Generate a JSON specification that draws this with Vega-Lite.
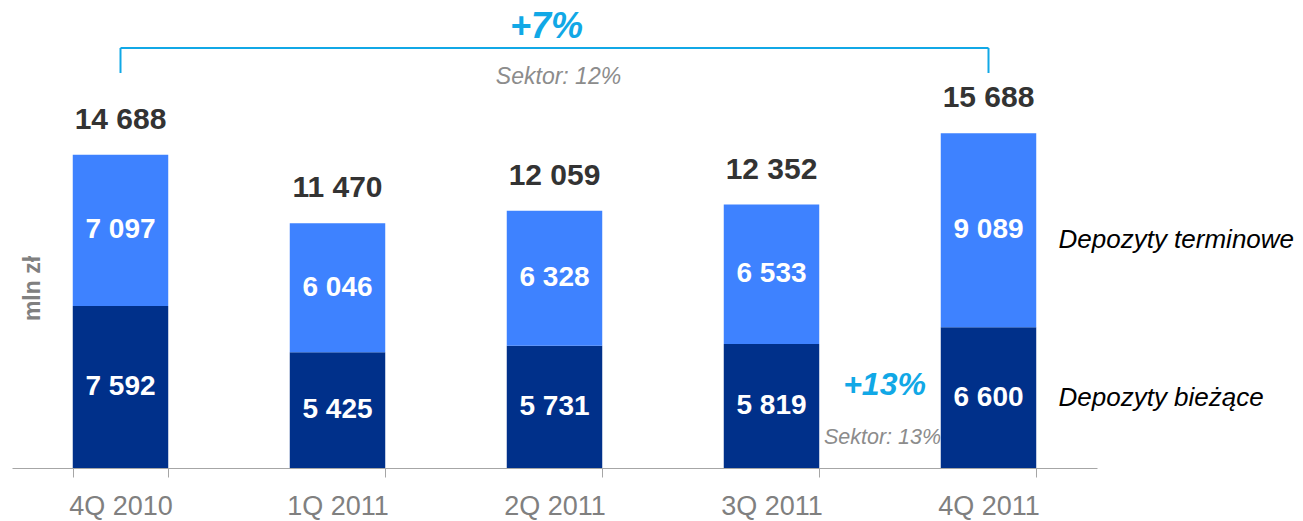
{
  "$schema": "https://vega.github.io/schema/vega-lite/v6.json",
  "width": 1085,
  "height": 468,
  "autosize": {"type": "none"},
  "padding": {"left": 12, "top": 0, "right": 206, "bottom": 53},
  "background": "white",
  "config": {"view": {"stroke": null}, "font": "Liberation Sans", "text": {"font": "Liberation Sans"}},
  "datasets": {
    "seg": [
      {"q": "4Q 2010", "typ": "Depozyty bieżące", "o": 1, "v": 7592, "lbl": "7 592"},
      {"q": "4Q 2010", "typ": "Depozyty terminowe", "o": 2, "v": 7097, "lbl": "7 097"},
      {"q": "1Q 2011", "typ": "Depozyty bieżące", "o": 1, "v": 5425, "lbl": "5 425"},
      {"q": "1Q 2011", "typ": "Depozyty terminowe", "o": 2, "v": 6046, "lbl": "6 046"},
      {"q": "2Q 2011", "typ": "Depozyty bieżące", "o": 1, "v": 5731, "lbl": "5 731"},
      {"q": "2Q 2011", "typ": "Depozyty terminowe", "o": 2, "v": 6328, "lbl": "6 328"},
      {"q": "3Q 2011", "typ": "Depozyty bieżące", "o": 1, "v": 5819, "lbl": "5 819"},
      {"q": "3Q 2011", "typ": "Depozyty terminowe", "o": 2, "v": 6533, "lbl": "6 533"},
      {"q": "4Q 2011", "typ": "Depozyty bieżące", "o": 1, "v": 6600, "lbl": "6 600"},
      {"q": "4Q 2011", "typ": "Depozyty terminowe", "o": 2, "v": 9089, "lbl": "9 089"}
    ],
    "tot": [
      {"q": "4Q 2010", "t": 14688, "lbl": "14 688"},
      {"q": "1Q 2011", "t": 11470, "lbl": "11 470"},
      {"q": "2Q 2011", "t": 12059, "lbl": "12 059"},
      {"q": "3Q 2011", "t": 12352, "lbl": "12 352"},
      {"q": "4Q 2011", "t": 15688, "lbl": "15 688"}
    ]
  },
  "encoding": {
    "x": {
      "field": "q", "type": "nominal", "sort": null,
      "scale": {"domain": ["4Q 2010", "1Q 2011", "2Q 2011", "3Q 2011", "4Q 2011"], "paddingInner": 0.56, "paddingOuter": 0.28},
      "axis": {
        "title": null, "labelAngle": 0, "labelFontSize": 27, "labelColor": "#808080",
        "labelPadding": 16, "domainColor": "#A6A6A6", "tickColor": "#A6A6A6",
        "tickBand": "extent", "tickSize": 9, "labelFont": "Liberation Sans"
      }
    }
  },
  "layer": [
    {
      "data": {"name": "seg"},
      "mark": {"type": "bar"},
      "encoding": {
        "y": {"field": "v", "type": "quantitative", "stack": "zero",
              "scale": {"domain": [0, 21940], "nice": false},
              "axis": {"domain": false, "ticks": false, "labels": false, "grid": false,
                       "title": "mln zł", "titleX": 20, "titleY": 288, "titleBaseline": "middle",
                       "titleFontSize": 23, "titleColor": "#808080", "titleFontWeight": "bold", "titleFont": "Liberation Sans"}},
        "order": {"field": "o", "type": "quantitative"},
        "color": {"field": "typ", "type": "nominal", "legend": null,
                  "scale": {"domain": ["Depozyty bieżące", "Depozyty terminowe"], "range": ["#00308A", "#3E82FF"]}}
      }
    },
    {
      "data": {"name": "seg"},
      "mark": {"type": "text", "color": "white", "fontSize": 28, "fontWeight": "bold", "baseline": "middle"},
      "encoding": {
        "y": {"field": "v", "type": "quantitative", "stack": "zero", "bandPosition": 0.5},
        "order": {"field": "o", "type": "quantitative"},
        "text": {"field": "lbl"}
      }
    },
    {
      "data": {"name": "tot"},
      "mark": {"type": "text", "color": "#333333", "fontSize": 30, "fontWeight": "bold", "baseline": "middle", "dy": -35},
      "encoding": {
        "y": {"field": "t", "type": "quantitative"},
        "text": {"field": "lbl"}
      }
    },
    {
      "data": {"values": [{"a": "4Q 2010", "b": "4Q 2011", "y": 19690}]},
      "mark": {"type": "rule", "color": "#11A8E6", "strokeWidth": 2},
      "encoding": {
        "x": {"field": "a", "type": "nominal"},
        "x2": {"field": "b"},
        "y": {"field": "y", "type": "quantitative"}
      }
    },
    {
      "data": {"values": [{"a": "4Q 2010", "y": 19690, "y2": 18519}, {"a": "4Q 2011", "y": 19690, "y2": 18519}]},
      "mark": {"type": "rule", "color": "#11A8E6", "strokeWidth": 2},
      "encoding": {
        "x": {"field": "a", "type": "nominal"},
        "y": {"field": "y", "type": "quantitative"},
        "y2": {"field": "y2"}
      }
    },
    {
      "data": {"values": [{"a": "2Q 2011", "y": 20675, "lbl": "+7%"}]},
      "mark": {"type": "text", "color": "#11A8E6", "fontSize": 36, "fontWeight": "bold", "fontStyle": "italic", "baseline": "middle", "dx": -8},
      "encoding": {
        "x": {"field": "a", "type": "nominal"},
        "y": {"field": "y", "type": "quantitative"},
        "text": {"field": "lbl"}
      }
    },
    {
      "data": {"values": [{"a": "2Q 2011", "y": 18331, "lbl": "Sektor: 12%"}]},
      "mark": {"type": "text", "color": "#8C8C8C", "fontSize": 23, "fontStyle": "italic", "baseline": "middle", "dx": 4},
      "encoding": {
        "x": {"field": "a", "type": "nominal"},
        "y": {"field": "y", "type": "quantitative"},
        "text": {"field": "lbl"}
      }
    },
    {
      "data": {"values": [{"a": "4Q 2011", "y": 3891, "lbl": "+13%"}]},
      "mark": {"type": "text", "color": "#11A8E6", "fontSize": 32, "fontWeight": "bold", "fontStyle": "italic", "baseline": "middle", "dx": -104},
      "encoding": {
        "x": {"field": "a", "type": "nominal"},
        "y": {"field": "y", "type": "quantitative"},
        "text": {"field": "lbl"}
      }
    },
    {
      "data": {"values": [{"a": "4Q 2011", "y": 1406, "lbl": "Sektor: 13%"}]},
      "mark": {"type": "text", "color": "#8C8C8C", "fontSize": 21.5, "fontStyle": "italic", "baseline": "middle", "dx": -106},
      "encoding": {
        "x": {"field": "a", "type": "nominal"},
        "y": {"field": "y", "type": "quantitative"},
        "text": {"field": "lbl"}
      }
    },
    {
      "data": {"values": [{"a": "4Q 2011", "y": 10689, "lbl": "Depozyty terminowe"}, {"a": "4Q 2011", "y": 3282, "lbl": "Depozyty bieżące"}]},
      "mark": {"type": "text", "color": "#000000", "fontSize": 26, "fontStyle": "italic", "baseline": "middle", "align": "left", "dx": 70},
      "encoding": {
        "x": {"field": "a", "type": "nominal"},
        "y": {"field": "y", "type": "quantitative"},
        "text": {"field": "lbl"}
      }
    }
  ]
}
